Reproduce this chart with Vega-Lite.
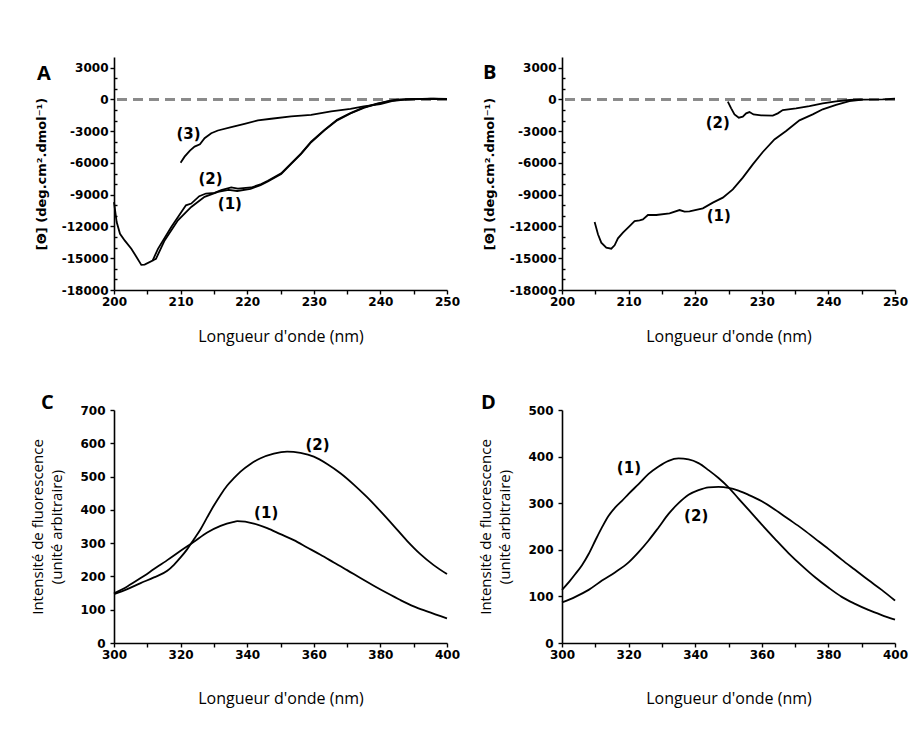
{
  "$schema": "https://vega.github.io/schema/vega-lite/v6.json",
  "background": "white",
  "padding": {"left": 30, "top": 57, "right": 4, "bottom": 30},
  "bounds": "flush",
  "columns": 2,
  "spacing": {"row": 120, "column": 115},
  "config": {
    "view": {"stroke": null},
    "axis": {
      "grid": false,
      "domainColor": "black", "domainWidth": 1.6,
      "tickColor": "black", "tickWidth": 1.4, "tickSize": 4, "tickCount": 100,
      "labelFont": "DejaVu Sans", "labelFontWeight": "bold", "labelFontSize": 12, "labelColor": "black",
      "labelPadding": 2, "labelFlush": false, "labelOverlap": false,
      "titleFont": "Open Sans", "titleFontSize": 16, "titleFontWeight": "normal", "titleColor": "black"
    },
    "title": {"font": "Open Sans", "fontSize": 20, "fontWeight": "bold", "color": "black", "anchor": "start", "frame": "group"},
    "line": {"color": "black", "strokeWidth": 1.8},
    "text": {"font": "DejaVu Sans", "fontWeight": "bold", "fontSize": 15, "color": "black", "align": "center", "baseline": "middle"}
  },
  "concat": [
    {
      "width": 333, "height": 233,
      "title": {"text": "A", "dx": -77, "offset": -43, "baseline": "alphabetic"},
      "data": {"values": [
        {"s": "2", "x": 200, "v": -9700}, {"s": "2", "x": 200.4, "v": -11580}, {"s": "2", "x": 200.9, "v": -12690},
        {"s": "2", "x": 201.6, "v": -13320}, {"s": "2", "x": 202.6, "v": -14110}, {"s": "2", "x": 203.4, "v": -14900},
        {"s": "2", "x": 204.1, "v": -15630}, {"s": "2", "x": 204.6, "v": -15600}, {"s": "2", "x": 205.8, "v": -15220},
        {"s": "2", "x": 206.6, "v": -14110}, {"s": "2", "x": 208.6, "v": -12060}, {"s": "2", "x": 210.8, "v": -10000},
        {"s": "2", "x": 211.6, "v": -9840}, {"s": "2", "x": 212.8, "v": -9140}, {"s": "2", "x": 213.8, "v": -8890},
        {"s": "2", "x": 215.1, "v": -8830}, {"s": "2", "x": 216.1, "v": -8570}, {"s": "2", "x": 217.6, "v": -8320},
        {"s": "2", "x": 218.6, "v": -8420}, {"s": "2", "x": 220.6, "v": -8320}, {"s": "2", "x": 222.1, "v": -8000},
        {"s": "2", "x": 223.1, "v": -7690}, {"s": "2", "x": 225.1, "v": -6990}, {"s": "2", "x": 226.6, "v": -6040},
        {"s": "2", "x": 228.1, "v": -5090}, {"s": "2", "x": 229.6, "v": -3990}, {"s": "2", "x": 231.6, "v": -2880},
        {"s": "2", "x": 233.5, "v": -1930}, {"s": "2", "x": 235.5, "v": -1300}, {"s": "2", "x": 237.5, "v": -760},
        {"s": "2", "x": 239.5, "v": -410}, {"s": "2", "x": 241.5, "v": -130}, {"s": "2", "x": 242.5, "v": -30},
        {"s": "2", "x": 245, "v": 30}, {"s": "2", "x": 247.5, "v": 60}, {"s": "2", "x": 250, "v": 30},
        {"s": "1", "x": 205.8, "v": -15220}, {"s": "1", "x": 206.3, "v": -15060}, {"s": "1", "x": 207.6, "v": -13320},
        {"s": "1", "x": 209.6, "v": -11420}, {"s": "1", "x": 211.6, "v": -10160}, {"s": "1", "x": 213.6, "v": -9210},
        {"s": "1", "x": 215.6, "v": -8730}, {"s": "1", "x": 217.2, "v": -8550}, {"s": "1", "x": 218.5, "v": -8650},
        {"s": "1", "x": 220.5, "v": -8450}, {"s": "1", "x": 222, "v": -8100}, {"s": "1", "x": 223.1, "v": -7750},
        {"s": "1", "x": 225.1, "v": -7050}, {"s": "1", "x": 226.6, "v": -6100}, {"s": "1", "x": 228.1, "v": -5150},
        {"s": "1", "x": 229.6, "v": -4050}, {"s": "1", "x": 231.6, "v": -2930}, {"s": "1", "x": 233.5, "v": -1980},
        {"s": "1", "x": 235.5, "v": -1330}, {"s": "1", "x": 237.5, "v": -800}, {"s": "1", "x": 239.5, "v": -430},
        {"s": "1", "x": 241.5, "v": -150}, {"s": "1", "x": 243, "v": -20}, {"s": "1", "x": 245, "v": 20},
        {"s": "1", "x": 247.5, "v": 50}, {"s": "1", "x": 250, "v": 40},
        {"s": "3", "x": 210, "v": -5980}, {"s": "3", "x": 210.6, "v": -5410}, {"s": "3", "x": 211.4, "v": -4840},
        {"s": "3", "x": 212.1, "v": -4460}, {"s": "3", "x": 212.9, "v": -4240}, {"s": "3", "x": 213.6, "v": -3670},
        {"s": "3", "x": 214.6, "v": -3200}, {"s": "3", "x": 215.6, "v": -2940}, {"s": "3", "x": 217.6, "v": -2630},
        {"s": "3", "x": 219.6, "v": -2310}, {"s": "3", "x": 221.6, "v": -1990}, {"s": "3", "x": 223.6, "v": -1830},
        {"s": "3", "x": 226.6, "v": -1610}, {"s": "3", "x": 229.6, "v": -1460}, {"s": "3", "x": 232.6, "v": -1140},
        {"s": "3", "x": 235.5, "v": -890}, {"s": "3", "x": 237.5, "v": -660}, {"s": "3", "x": 240, "v": -440},
        {"s": "3", "x": 242, "v": -130}, {"s": "3", "x": 244, "v": -10}, {"s": "3", "x": 246, "v": 30},
        {"s": "3", "x": 248, "v": 60}, {"s": "3", "x": 250, "v": 50}
      ]},
      "layer": [
        {
          "mark": {"type": "rule", "strokeDash": [10, 6], "color": "#8a8a8a", "strokeWidth": 2},
          "encoding": {"y": {"datum": 0, "type": "quantitative", "scale": {"domain": [-18000, 4000], "nice": false, "zero": false}}}
        },
        {
          "mark": "line",
          "encoding": {
            "x": {"field": "x", "type": "quantitative", "scale": {"domain": [200, 250], "nice": false, "zero": false},
                  "axis": {"title": "Longueur d'onde (nm)", "values": [200, 205, 210, 215, 220, 225, 230, 235, 240, 245, 250],
                           "labelExpr": "datum.value % 10 === 0 ? '' + datum.value : ''", "titlePadding": 21}},
            "y": {"field": "v", "type": "quantitative", "scale": {"domain": [-18000, 4000], "nice": false, "zero": false},
                  "axis": {"title": "[Θ] (deg.cm².dmol⁻¹)", "titleFont": "DejaVu Sans", "titleFontWeight": "bold", "titleFontSize": 13,
                           "values": [-18000, -17000, -16000, -15000, -14000, -13000, -12000, -11000, -10000, -9000, -8000, -7000, -6000, -5000, -4000, -3000, -2000, -1000, 0, 1000, 2000, 3000],
                           "labelExpr": "datum.value % 3000 === 0 ? '' + datum.value : ''",
                           "tickSize": {"condition": {"test": "datum.value % 3000 === 0", "value": 4}, "value": -3},
                           "titlePadding": 13}},
            "detail": {"field": "s"}
          }
        },
        {
          "data": {"values": [{"x": 211.2, "v": -3290, "t": "(3)"}, {"x": 214.5, "v": -7560, "t": "(2)"}, {"x": 217.4, "v": -9900, "t": "(1)"}]},
          "mark": "text",
          "encoding": {
            "x": {"field": "x", "type": "quantitative", "scale": {"domain": [200, 250], "nice": false, "zero": false}},
            "y": {"field": "v", "type": "quantitative", "scale": {"domain": [-18000, 4000], "nice": false, "zero": false}},
            "text": {"field": "t"}
          }
        }
      ]
    },
    {
      "width": 333, "height": 233,
      "title": {"text": "B", "dx": -79, "offset": -42, "baseline": "alphabetic"},
      "data": {"values": [
        {"s": "1", "x": 204.9, "v": -11580}, {"s": "1", "x": 205.4, "v": -12740}, {"s": "1", "x": 205.9, "v": -13530},
        {"s": "1", "x": 206.65, "v": -14000}, {"s": "1", "x": 207.4, "v": -14100}, {"s": "1", "x": 207.9, "v": -13780},
        {"s": "1", "x": 208.4, "v": -13120}, {"s": "1", "x": 209.15, "v": -12590}, {"s": "1", "x": 210.15, "v": -11960},
        {"s": "1", "x": 210.9, "v": -11490}, {"s": "1", "x": 211.65, "v": -11420}, {"s": "1", "x": 212.15, "v": -11330},
        {"s": "1", "x": 212.9, "v": -10920}, {"s": "1", "x": 214.15, "v": -10920}, {"s": "1", "x": 216.15, "v": -10760},
        {"s": "1", "x": 217.65, "v": -10450}, {"s": "1", "x": 218.4, "v": -10600}, {"s": "1", "x": 219.15, "v": -10570},
        {"s": "1", "x": 221.15, "v": -10290}, {"s": "1", "x": 222.65, "v": -9750}, {"s": "1", "x": 224.15, "v": -9280},
        {"s": "1", "x": 225.65, "v": -8500}, {"s": "1", "x": 227.15, "v": -7390}, {"s": "1", "x": 228.65, "v": -6140},
        {"s": "1", "x": 230.15, "v": -4970}, {"s": "1", "x": 231.9, "v": -3780}, {"s": "1", "x": 233.65, "v": -2990},
        {"s": "1", "x": 235.65, "v": -1980}, {"s": "1", "x": 237.65, "v": -1420}, {"s": "1", "x": 239.15, "v": -940},
        {"s": "1", "x": 241.15, "v": -530}, {"s": "1", "x": 243.15, "v": -160}, {"s": "1", "x": 245.15, "v": -30},
        {"s": "1", "x": 248.15, "v": 0}, {"s": "1", "x": 250, "v": 60},
        {"s": "2", "x": 224.9, "v": -220}, {"s": "2", "x": 225.4, "v": -850}, {"s": "2", "x": 225.9, "v": -1420},
        {"s": "2", "x": 226.55, "v": -1730}, {"s": "2", "x": 227.15, "v": -1640}, {"s": "2", "x": 227.65, "v": -1320},
        {"s": "2", "x": 228.15, "v": -1200}, {"s": "2", "x": 228.75, "v": -1420}, {"s": "2", "x": 229.9, "v": -1510},
        {"s": "2", "x": 231.65, "v": -1540}, {"s": "2", "x": 232.4, "v": -1320}, {"s": "2", "x": 233.15, "v": -1010},
        {"s": "2", "x": 235.15, "v": -850}, {"s": "2", "x": 237.15, "v": -630}, {"s": "2", "x": 239.15, "v": -380},
        {"s": "2", "x": 241.15, "v": -190}, {"s": "2", "x": 243.15, "v": -60}, {"s": "2", "x": 245, "v": 0}
      ]},
      "layer": [
        {
          "mark": {"type": "rule", "strokeDash": [10, 6], "color": "#8a8a8a", "strokeWidth": 2},
          "encoding": {"y": {"datum": 0, "type": "quantitative", "scale": {"domain": [-18000, 4000], "nice": false, "zero": false}}}
        },
        {
          "mark": "line",
          "encoding": {
            "x": {"field": "x", "type": "quantitative", "scale": {"domain": [200, 250], "nice": false, "zero": false},
                  "axis": {"title": "Longueur d'onde (nm)", "values": [200, 205, 210, 215, 220, 225, 230, 235, 240, 245, 250],
                           "labelExpr": "datum.value % 10 === 0 ? '' + datum.value : ''", "titlePadding": 21}},
            "y": {"field": "v", "type": "quantitative", "scale": {"domain": [-18000, 4000], "nice": false, "zero": false},
                  "axis": {"title": "[Θ] (deg.cm².dmol⁻¹)", "titleFont": "DejaVu Sans", "titleFontWeight": "bold", "titleFontSize": 13,
                           "values": [-18000, -17000, -16000, -15000, -14000, -13000, -12000, -11000, -10000, -9000, -8000, -7000, -6000, -5000, -4000, -3000, -2000, -1000, 0, 1000, 2000, 3000],
                           "labelExpr": "datum.value % 3000 === 0 ? '' + datum.value : ''",
                           "tickSize": {"condition": {"test": "datum.value % 3000 === 0", "value": 4}, "value": -3},
                           "titlePadding": 13}},
            "detail": {"field": "s"}
          }
        },
        {
          "data": {"values": [{"x": 223.4, "v": -2200, "t": "(2)"}, {"x": 223.55, "v": -11010, "t": "(1)"}]},
          "mark": "text",
          "encoding": {
            "x": {"field": "x", "type": "quantitative", "scale": {"domain": [200, 250], "nice": false, "zero": false}},
            "y": {"field": "v", "type": "quantitative", "scale": {"domain": [-18000, 4000], "nice": false, "zero": false}},
            "text": {"field": "t"}
          }
        }
      ]
    },
    {
      "width": 333, "height": 233,
      "title": {"text": "C", "dx": -73, "offset": -25, "baseline": "alphabetic"},
      "data": {"values": [
        {"s": "1", "x": 300, "v": 149}, {"s": "1", "x": 304, "v": 170}, {"s": "1", "x": 308, "v": 195}, {"s": "1", "x": 312, "v": 222},
        {"s": "1", "x": 316, "v": 249}, {"s": "1", "x": 320, "v": 277}, {"s": "1", "x": 324, "v": 304}, {"s": "1", "x": 328, "v": 332},
        {"s": "1", "x": 332, "v": 352}, {"s": "1", "x": 336, "v": 364}, {"s": "1", "x": 337, "v": 366}, {"s": "1", "x": 342, "v": 359},
        {"s": "1", "x": 346, "v": 345}, {"s": "1", "x": 350, "v": 327}, {"s": "1", "x": 354, "v": 309}, {"s": "1", "x": 358, "v": 287},
        {"s": "1", "x": 362, "v": 265}, {"s": "1", "x": 366, "v": 242}, {"s": "1", "x": 370, "v": 219}, {"s": "1", "x": 374, "v": 195},
        {"s": "1", "x": 378, "v": 172}, {"s": "1", "x": 382, "v": 150}, {"s": "1", "x": 386, "v": 129}, {"s": "1", "x": 390, "v": 110},
        {"s": "1", "x": 394, "v": 95}, {"s": "1", "x": 400, "v": 74},
        {"s": "2", "x": 300, "v": 147}, {"s": "2", "x": 304, "v": 162}, {"s": "2", "x": 308, "v": 180}, {"s": "2", "x": 312, "v": 197},
        {"s": "2", "x": 316, "v": 217}, {"s": "2", "x": 318, "v": 235}, {"s": "2", "x": 320, "v": 257}, {"s": "2", "x": 322, "v": 282},
        {"s": "2", "x": 324, "v": 312}, {"s": "2", "x": 326, "v": 342}, {"s": "2", "x": 328, "v": 378}, {"s": "2", "x": 330, "v": 413},
        {"s": "2", "x": 332, "v": 445}, {"s": "2", "x": 334, "v": 473}, {"s": "2", "x": 336, "v": 495}, {"s": "2", "x": 338, "v": 515},
        {"s": "2", "x": 341, "v": 538}, {"s": "2", "x": 344, "v": 555}, {"s": "2", "x": 348, "v": 569}, {"s": "2", "x": 352, "v": 575},
        {"s": "2", "x": 356, "v": 571}, {"s": "2", "x": 360, "v": 560}, {"s": "2", "x": 364, "v": 538}, {"s": "2", "x": 368, "v": 510},
        {"s": "2", "x": 372, "v": 476}, {"s": "2", "x": 376, "v": 438}, {"s": "2", "x": 380, "v": 396}, {"s": "2", "x": 384, "v": 352},
        {"s": "2", "x": 388, "v": 307}, {"s": "2", "x": 392, "v": 267}, {"s": "2", "x": 396, "v": 234}, {"s": "2", "x": 400, "v": 207}
      ]},
      "layer": [
        {
          "mark": {"type": "line", "interpolate": "monotone"},
          "encoding": {
            "x": {"field": "x", "type": "quantitative", "scale": {"domain": [300, 400], "nice": false, "zero": false},
                  "axis": {"title": "Longueur d'onde (nm)", "values": [300, 310, 320, 330, 340, 350, 360, 370, 380, 390, 400],
                           "labelExpr": "datum.value % 20 === 0 ? '' + datum.value : ''", "titlePadding": 30}},
            "y": {"field": "v", "type": "quantitative", "scale": {"domain": [0, 700], "nice": false},
                  "axis": {"title": ["Intensité de fluorescence", "(unité arbitraire)"], "titleFontSize": 15, "titleLineHeight": 19,
                           "values": [0, 100, 200, 300, 400, 500, 600, 700], "labelExpr": "'' + datum.value", "titlePadding": 15, "labelPadding": 5}},
            "detail": {"field": "s"}
          }
        },
        {
          "data": {"values": [{"x": 361.1, "v": 595, "t": "(2)"}, {"x": 345.7, "v": 390, "t": "(1)"}]},
          "mark": "text",
          "encoding": {
            "x": {"field": "x", "type": "quantitative", "scale": {"domain": [300, 400], "nice": false, "zero": false}},
            "y": {"field": "v", "type": "quantitative", "scale": {"domain": [0, 700], "nice": false}},
            "text": {"field": "t"}
          }
        }
      ]
    },
    {
      "width": 333, "height": 233,
      "title": {"text": "D", "dx": -81, "offset": -25, "baseline": "alphabetic"},
      "data": {"values": [
        {"s": "1", "x": 300, "v": 114}, {"s": "1", "x": 302, "v": 130}, {"s": "1", "x": 304, "v": 148}, {"s": "1", "x": 306, "v": 167},
        {"s": "1", "x": 308, "v": 191}, {"s": "1", "x": 310, "v": 220}, {"s": "1", "x": 312, "v": 248}, {"s": "1", "x": 314, "v": 273},
        {"s": "1", "x": 316, "v": 291}, {"s": "1", "x": 318, "v": 305}, {"s": "1", "x": 320, "v": 320}, {"s": "1", "x": 323, "v": 341},
        {"s": "1", "x": 326, "v": 363}, {"s": "1", "x": 329, "v": 379}, {"s": "1", "x": 332, "v": 391}, {"s": "1", "x": 335, "v": 396},
        {"s": "1", "x": 338, "v": 394}, {"s": "1", "x": 341, "v": 386}, {"s": "1", "x": 344, "v": 371}, {"s": "1", "x": 347, "v": 354},
        {"s": "1", "x": 350, "v": 334}, {"s": "1", "x": 353, "v": 310}, {"s": "1", "x": 356, "v": 286}, {"s": "1", "x": 360, "v": 254},
        {"s": "1", "x": 364, "v": 223}, {"s": "1", "x": 368, "v": 193}, {"s": "1", "x": 372, "v": 166}, {"s": "1", "x": 376, "v": 141},
        {"s": "1", "x": 380, "v": 119}, {"s": "1", "x": 384, "v": 99}, {"s": "1", "x": 388, "v": 84}, {"s": "1", "x": 392, "v": 71},
        {"s": "1", "x": 396, "v": 60}, {"s": "1", "x": 400, "v": 50},
        {"s": "2", "x": 300, "v": 87}, {"s": "2", "x": 304, "v": 99}, {"s": "2", "x": 308, "v": 114}, {"s": "2", "x": 312, "v": 134},
        {"s": "2", "x": 316, "v": 152}, {"s": "2", "x": 320, "v": 173}, {"s": "2", "x": 323, "v": 195}, {"s": "2", "x": 326, "v": 220},
        {"s": "2", "x": 329, "v": 248}, {"s": "2", "x": 332, "v": 277}, {"s": "2", "x": 335, "v": 300}, {"s": "2", "x": 338, "v": 318},
        {"s": "2", "x": 341, "v": 328}, {"s": "2", "x": 344, "v": 334}, {"s": "2", "x": 347, "v": 335}, {"s": "2", "x": 350, "v": 333},
        {"s": "2", "x": 353, "v": 327}, {"s": "2", "x": 356, "v": 318}, {"s": "2", "x": 360, "v": 304}, {"s": "2", "x": 364, "v": 286},
        {"s": "2", "x": 368, "v": 266}, {"s": "2", "x": 372, "v": 246}, {"s": "2", "x": 376, "v": 224}, {"s": "2", "x": 380, "v": 202},
        {"s": "2", "x": 384, "v": 179}, {"s": "2", "x": 388, "v": 157}, {"s": "2", "x": 392, "v": 135}, {"s": "2", "x": 396, "v": 114},
        {"s": "2", "x": 400, "v": 91}
      ]},
      "layer": [
        {
          "mark": {"type": "line", "interpolate": "monotone"},
          "encoding": {
            "x": {"field": "x", "type": "quantitative", "scale": {"domain": [300, 400], "nice": false, "zero": false},
                  "axis": {"title": "Longueur d'onde (nm)", "values": [300, 310, 320, 330, 340, 350, 360, 370, 380, 390, 400],
                           "labelExpr": "datum.value % 20 === 0 ? '' + datum.value : ''", "titlePadding": 30}},
            "y": {"field": "v", "type": "quantitative", "scale": {"domain": [0, 500], "nice": false},
                  "axis": {"title": ["Intensité de fluorescence", "(unité arbitraire)"], "titleFontSize": 15, "titleLineHeight": 19,
                           "values": [0, 100, 200, 300, 400, 500], "labelExpr": "'' + datum.value", "titlePadding": 15, "labelPadding": 5}},
            "detail": {"field": "s"}
          }
        },
        {
          "data": {"values": [{"x": 320.1, "v": 375, "t": "(1)"}, {"x": 340.3, "v": 273, "t": "(2)"}]},
          "mark": "text",
          "encoding": {
            "x": {"field": "x", "type": "quantitative", "scale": {"domain": [300, 400], "nice": false, "zero": false}},
            "y": {"field": "v", "type": "quantitative", "scale": {"domain": [0, 500], "nice": false}},
            "text": {"field": "t"}
          }
        }
      ]
    }
  ]
}
